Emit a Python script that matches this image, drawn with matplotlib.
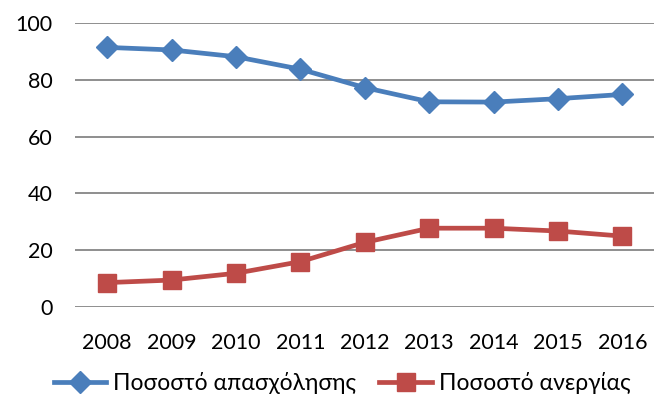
import matplotlib
matplotlib.use("Agg")
import matplotlib.pyplot as plt

plt.rcParams['font.family'] = ['Lato', 'DejaVu Sans']

years = ['2008', '2009', '2010', '2011', '2012', '2013', '2014', '2015', '2016']
employment = [91.5, 90.6, 88.2, 83.8, 77.3, 72.3, 72.2, 73.4, 74.9]
unemployment = [8.5, 9.4, 11.8, 15.9, 22.7, 27.7, 27.7, 26.7, 24.9]
yticks = [0, 20, 40, 60, 80, 100]

fig = plt.figure(figsize=(6.54, 4.12), dpi=100)
ax = fig.add_axes([75 / 654, 105.3 / 412, 579.6 / 654, 283.4 / 412])

x = range(len(years))
ax.plot(x, employment, color='#4A7EBB', linewidth=3.4, marker='D', markersize=11,
        label='Ποσοστό απασχόλησης', zorder=3)
ax.plot(x, unemployment, color='#BE4B48', linewidth=3.4, marker='s', markersize=13.5,
        label='Ποσοστό ανεργίας', zorder=3)

ax.set_xlim(-0.5, len(years) - 0.5)
ax.set_ylim(0, 100)
ax.set_yticks(yticks)
ax.set_xticks(list(x))
ax.set_xticklabels(years)
ax.grid(axis='y', color='#868686', linewidth=1.3)
ax.set_axisbelow(True)
for s in ax.spines.values():
    s.set_visible(False)
ax.tick_params(axis='both', length=0, labelsize=15.5, colors='black')
ax.tick_params(axis='y', pad=16)
ax.tick_params(axis='x', pad=19)
for ln in ax.lines:
    ln.set_clip_on(False)

fig.legend(loc='center', bbox_to_anchor=(342 / 654, 1 - 383 / 412), ncol=2,
           frameon=False, fontsize=16.5, handlelength=2.3, handletextpad=0.3,
           columnspacing=1.0)

fig.savefig('out.png', dpi=100)
